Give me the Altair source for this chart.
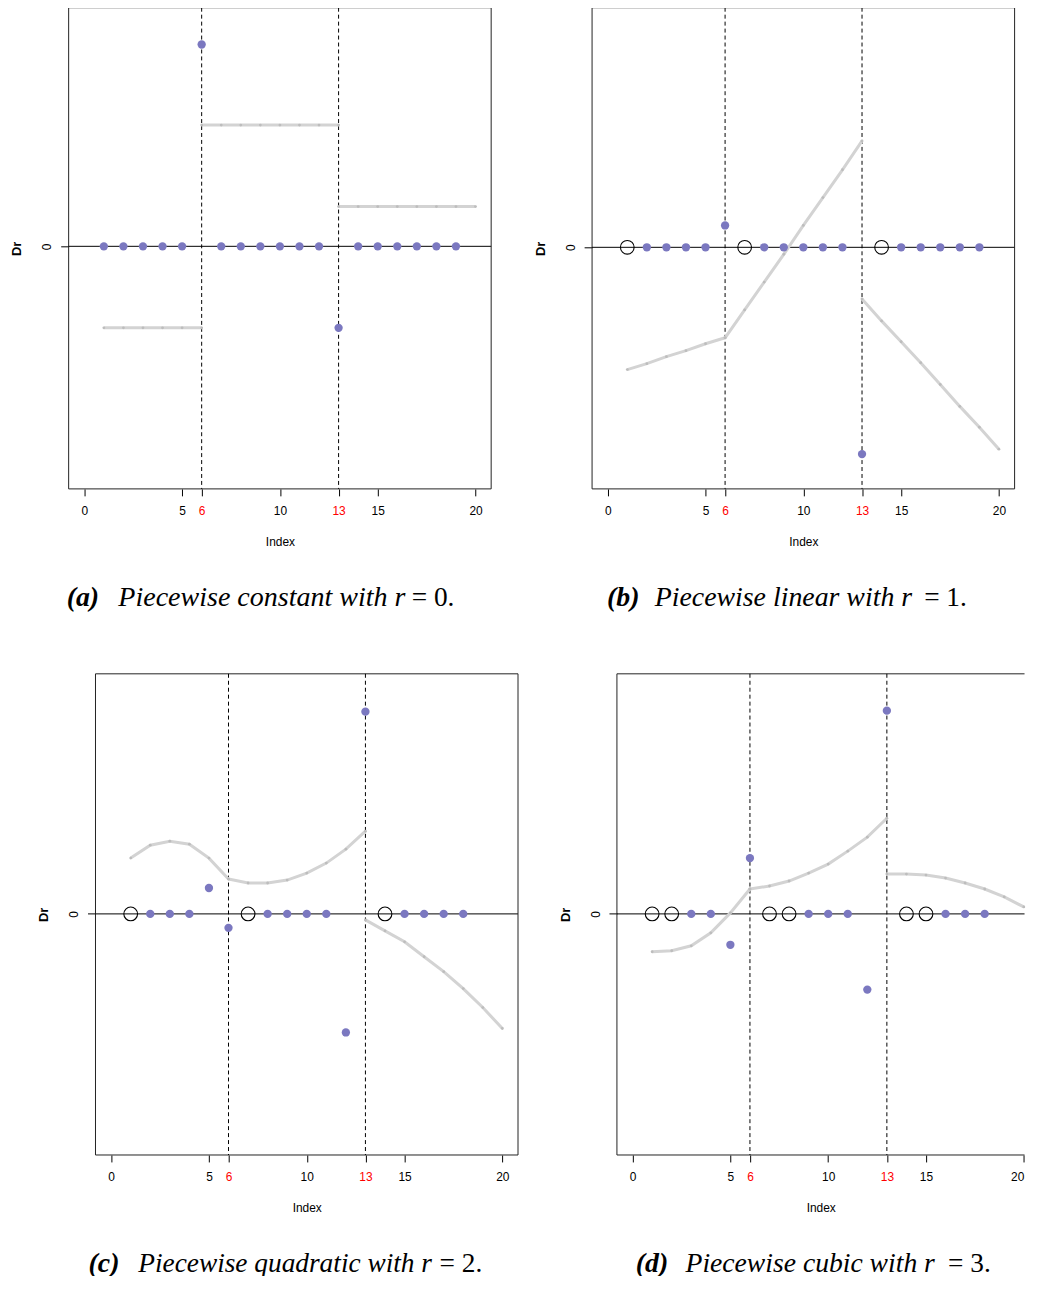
import altair as alt
import pandas as pd

# ---------------- data ----------------
x_ticks = [0, 5, 6, 10, 13, 15, 20]
breaks = [6, 13]
seg1_idx = [1, 2, 3, 4, 5, 6]
seg2_idx = [6, 7, 8, 9, 10, 11, 12, 13]
seg3_idx = [13, 14, 15, 16, 17, 18, 19, 20]

# (a) piecewise constant, r = 0
a_dot_idx = [1, 2, 3, 4, 5, 6, 7, 8, 9, 10, 11, 12, 13, 14, 15, 16, 17, 18, 19]
a_dot_val = [0, 0, 0, 0, 0, 2.03, 0, 0, 0, 0, 0, 0, -0.82, 0, 0, 0, 0, 0, 0]
a_circ_idx = []
a_seg1 = [-0.82, -0.82, -0.82, -0.82, -0.82, -0.82]
a_seg2 = [1.22, 1.22, 1.22, 1.22, 1.22, 1.22, 1.22, 1.22]
a_seg3 = [0.40, 0.40, 0.40, 0.40, 0.40, 0.40, 0.40, 0.40]

# (b) piecewise linear, r = 1
b_dot_idx = [2, 3, 4, 5, 6, 8, 9, 10, 11, 12, 13, 15, 16, 17, 18, 19]
b_dot_val = [0, 0, 0, 0, 0.22, 0, 0, 0, 0, 0, -2.08, 0, 0, 0, 0, 0]
b_circ_idx = [1, 7, 14]
b_seg1 = [-1.23, -1.17, -1.10, -1.04, -0.97, -0.91]
b_seg2 = [-0.91, -0.63, -0.35, -0.07, 0.22, 0.50, 0.78, 1.07]
b_seg3 = [-0.52, -0.74, -0.95, -1.16, -1.38, -1.60, -1.81, -2.03]

# (c) piecewise quadratic, r = 2
c_dot_idx = [2, 3, 4, 5, 6, 8, 9, 10, 11, 12, 13, 15, 16, 17, 18]
c_dot_val = [0, 0, 0, 0.26, -0.14, 0, 0, 0, 0, -1.19, 2.03, 0, 0, 0, 0]
c_circ_idx = [1, 7, 14]
c_seg1 = [0.56, 0.69, 0.73, 0.70, 0.56, 0.35]
c_seg2 = [0.35, 0.31, 0.31, 0.34, 0.41, 0.51, 0.65, 0.83]
c_seg3 = [-0.06, -0.17, -0.28, -0.43, -0.58, -0.75, -0.94, -1.15]

# (d) piecewise cubic, r = 3
d_dot_idx = [3, 4, 5, 6, 9, 10, 11, 12, 13, 16, 17, 18]
d_dot_val = [0, 0, -0.31, 0.56, 0, 0, 0, -0.76, 2.04, 0, 0, 0]
d_circ_idx = [1, 2, 7, 8, 14, 15]
d_seg1 = [-0.38, -0.37, -0.32, -0.19, 0.01, 0.25]
d_seg2 = [0.25, 0.28, 0.33, 0.41, 0.50, 0.63, 0.77, 0.96]
d_seg3 = [0.40, 0.40, 0.39, 0.36, 0.31, 0.25, 0.17, 0.07]

captions = {
    "a": ("(a)", "Piecewise constant with r", "= 0."),
    "b": ("(b)", "Piecewise linear with r", "= 1."),
    "c": ("(c)", "Piecewise quadratic with r", "= 2."),
    "d": ("(d)", "Piecewise cubic with r", "= 3."),
}

# ---------------- styling ----------------
H = 484
FULL_W = 425
X_LO, X_SPAN = -0.8, 21.6
PX_PER_UNIT = FULL_W / X_SPAN
DOT_COLOR = "#7B78C0"
LINE_COLOR = "#D3D3D3"
FRAME = "#222222"
SANS = "Liberation Sans"
SERIF = "Liberation Serif"
CAP_Y = 602


def panel(dot_idx, dot_val, circ_idx, segs, ydom, cap, box_w=FULL_W, pad=0,
          cap_x=(0, 50, 345), main_size=27.5, anchor_x=-60, right_frame=True,
          flush=False):
    """pad = empty pixels on the left of the frame inside the view (layout shift)."""
    plot_w = pad + box_w
    box_lo = X_LO
    x_lo = X_LO - pad / PX_PER_UNIT
    x_hi = X_LO + box_w / PX_PER_UNIT
    xs = alt.Scale(domain=[x_lo, x_hi], nice=False, zero=False)
    ys = alt.Scale(domain=ydom, nice=False, zero=False)
    xaxis = alt.Axis(
        values=x_ticks, grid=False, domain=False, ticks=True, tickSize=7,
        tickColor="black", labelFont=SANS, labelFontSize=12,
        labelColor=alt.condition("datum.value == 6 || datum.value == 13",
                                 alt.value("#ff0000"), alt.value("black")),
        labelPadding=10, labelOverlap=False, labelFlush=(3 if flush else False),
        format="d",
        title="Index", titleFont=SANS, titleFontSize=12,
        titleFontWeight="normal", titleColor="black", titlePadding=20,
        titleX=pad + box_w / 2,
    )
    yaxis = alt.Axis(
        values=[0], grid=False, domain=False, ticks=True, tickSize=8,
        tickColor="black", labelAngle=270, labelAlign="center",
        labelBaseline="bottom", labelPadding=7, labelFont=SANS,
        labelFontSize=12, labelColor="black", format="d",
        title="Dr", titleFont=SANS, titleFontSize=13, titleFontWeight="bold",
        titleColor="black", titlePadding=17, offset=-pad,
    )
    X = alt.X("idx:Q", scale=xs, axis=xaxis)
    Y = alt.Y("val:Q", scale=ys, axis=yaxis)

    zero_df = pd.DataFrame({"val": [0]})
    brk_df = pd.DataFrame({"idx": breaks})
    rows = []
    for k, (ix, vs) in enumerate(zip([seg1_idx, seg2_idx, seg3_idx], segs)):
        for i, v in zip(ix, vs):
            rows.append({"idx": i, "val": v, "seg": k})
    line_df = pd.DataFrame(rows)
    dot_df = pd.DataFrame({"idx": dot_idx, "val": dot_val})
    circ_df = pd.DataFrame({"idx": circ_idx, "val": [0] * len(circ_idx)})
    one = pd.DataFrame({"k": [0]})

    layers = [
        # frame
        alt.Chart(one).mark_rule(color=FRAME, strokeWidth=1).encode(
            x=alt.value(pad), y=alt.value(0), y2=alt.value(H)),
        alt.Chart(one).mark_rule(color=FRAME, strokeWidth=1).encode(
            x=alt.value(pad), x2=alt.value(plot_w), y=alt.value(0)),
        alt.Chart(one).mark_rule(color=FRAME, strokeWidth=1).encode(
            x=alt.value(pad), x2=alt.value(plot_w), y=alt.value(H)),
        # zero line, limited to the frame
        alt.Chart(zero_df).mark_rule(color="black", strokeWidth=1).encode(
            y=Y, x=alt.datum(box_lo, scale=xs), x2=alt.datum(x_hi)),
        alt.Chart(brk_df).mark_rule(color="black", strokeWidth=1,
                                    strokeDash=[4, 3]).encode(x=X),
        alt.Chart(line_df).mark_line(
            color=LINE_COLOR, strokeWidth=3,
            point=alt.OverlayMarkDef(color="#BDBDBD", size=8, filled=True),
        ).encode(x=X, y=Y, detail="seg:N"),
        alt.Chart(dot_df).mark_circle(color=DOT_COLOR, size=70, opacity=1).encode(x=X, y=Y),
    ]
    if right_frame:
        layers.append(alt.Chart(one).mark_rule(color=FRAME, strokeWidth=1).encode(
            x=alt.value(plot_w), y=alt.value(0), y2=alt.value(H)))
    if circ_idx:
        layers.append(
            alt.Chart(circ_df).mark_point(shape="circle", filled=False, color="black",
                                          size=190, strokeWidth=1.1, opacity=1).encode(x=X, y=Y)
        )
    tag, main, eq = cap
    layers += [
        alt.Chart(one).mark_text(text=tag, font=SERIF, fontSize=28, fontStyle="italic",
                                 fontWeight="bold", align="left", baseline="alphabetic",
                                 color="black").encode(x=alt.value(pad + cap_x[0]), y=alt.value(CAP_Y)),
        alt.Chart(one).mark_text(text=main, font=SERIF, fontSize=main_size, fontStyle="italic",
                                 align="left", baseline="alphabetic",
                                 color="black").encode(x=alt.value(pad + cap_x[1]), y=alt.value(CAP_Y)),
        alt.Chart(one).mark_text(text=eq, font=SERIF, fontSize=27.5, align="left",
                                 baseline="alphabetic",
                                 color="black").encode(x=alt.value(pad + cap_x[2]), y=alt.value(CAP_Y)),
        # white layout anchor (fixes the panel's left extent)
        alt.Chart(one).mark_text(text=".", fontSize=10, color="white", align="left",
                                 baseline="bottom").encode(
            x=alt.value(pad + anchor_x), y=alt.value(590)),
    ]
    return (alt.layer(*layers)
            .properties(width=plot_w, height=H,
                        view=alt.ViewBackground(stroke="transparent")))


pa = panel(a_dot_idx, a_dot_val, a_circ_idx, [a_seg1, a_seg2, a_seg3], [-2.44, 2.40],
           captions["a"], cap_x=(-2, 50, 345), main_size=28.2, anchor_x=-60)
pb = panel(b_dot_idx, b_dot_val, b_circ_idx, [b_seg1, b_seg2, b_seg3], [-2.43, 2.41],
           captions["b"], cap_x=(15, 63, 334), main_size=28, anchor_x=-62)
pc = panel(c_dot_idx, c_dot_val, c_circ_idx, [c_seg1, c_seg2, c_seg3], [-2.42, 2.41],
           captions["c"], pad=27, cap_x=(-7, 43, 346), main_size=27.5, anchor_x=-87)
pd_ = panel(d_dot_idx, d_dot_val, d_circ_idx, [d_seg1, d_seg2, d_seg3], [-2.42, 2.41],
            captions["d"], box_w=410, pad=25, cap_x=(19, 69, 333), main_size=27.8,
            anchor_x=-85, right_frame=False, flush=True)

chart = (
    alt.concat(pa, pb, pc, pd_, columns=2, spacing={"row": 60, "column": 10.5})
    .properties(padding={"top": -5, "left": 0, "right": 0, "bottom": -7})
)

chart.save("out.html", embed_options={"renderer": "svg", "actions": False})
